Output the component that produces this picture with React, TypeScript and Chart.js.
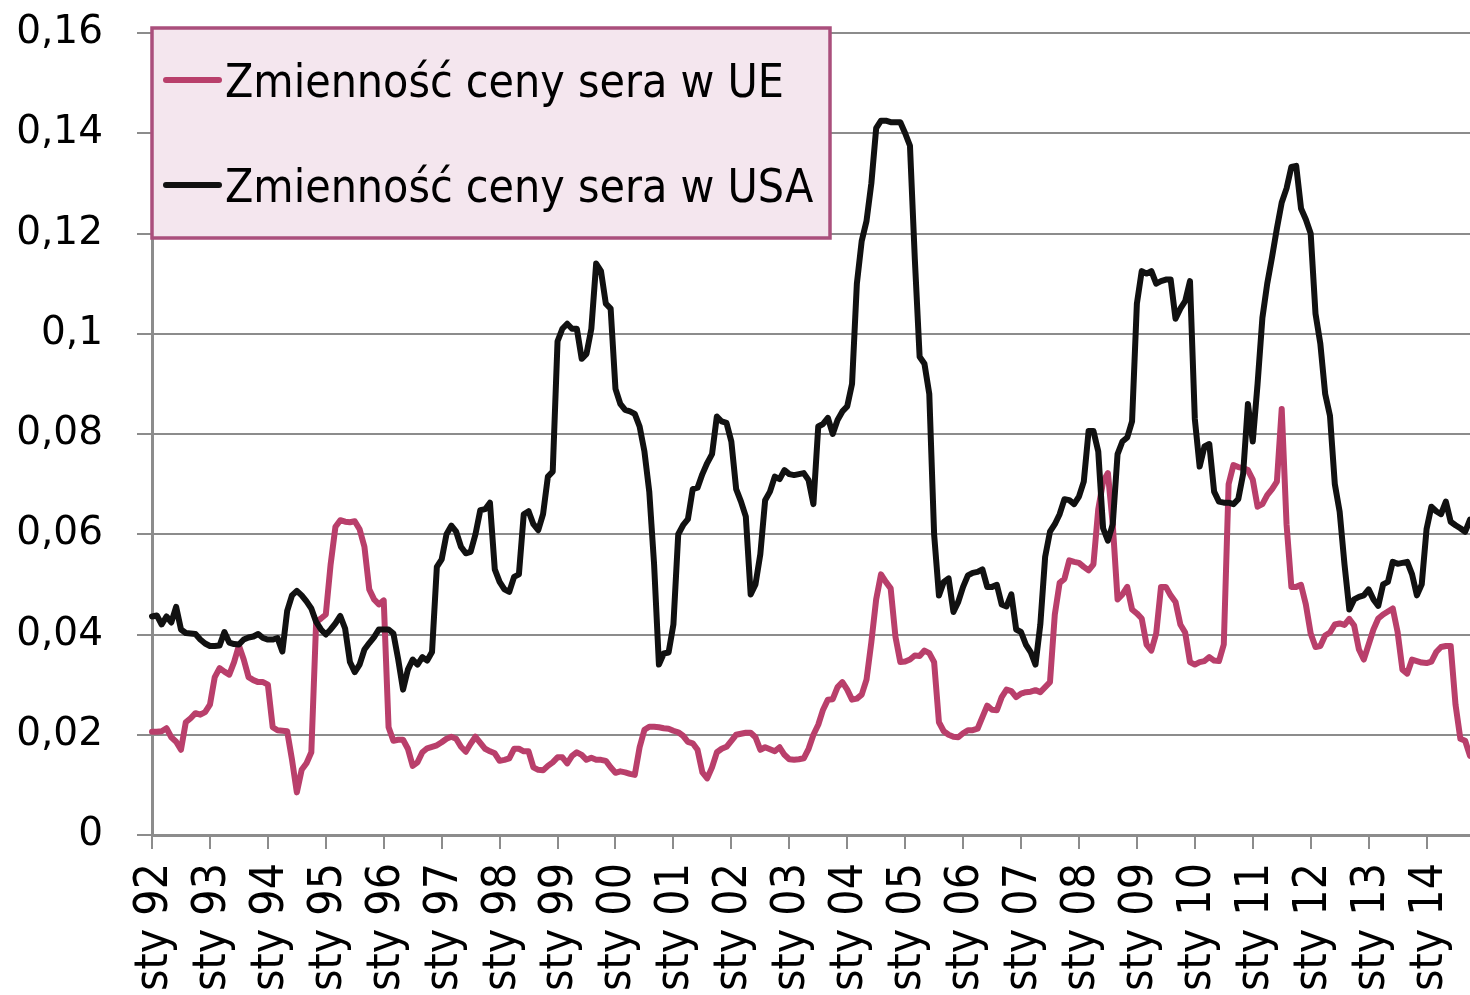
import React, { useEffect, useRef } from 'react';
import { Chart, registerables } from 'chart.js';

Chart.register(...registerables);

const MONTHS = ['sty', 'lut', 'mar', 'kwi', 'maj', 'cze', 'lip', 'sie', 'wrz', 'paź', 'lis', 'gru'];
const YEARS = ['92', '93', '94', '95', '96', '97', '98', '99', '00', '01', '02', '03', '04', '05', '06', '07', '08', '09', '10', '11', '12', '13', '14'];

const SERIES_LABELS = ['Zmienność ceny sera w UE', 'Zmienność ceny sera w USA'];
const SERIES_COLORS = ['#B93F6B', '#111111'];

const UE = [
  0.0206, 0.0206, 0.0207, 0.0213, 0.0195, 0.0186, 0.0170, 0.0225, 0.0233, 0.0243, 0.0240, 0.0245,
  0.0260, 0.0315, 0.0333, 0.0326, 0.0320, 0.0345, 0.0378, 0.0350, 0.0315, 0.0309, 0.0305, 0.0305,
  0.0300, 0.0215, 0.0209, 0.0208, 0.0207, 0.0150, 0.0085, 0.0130, 0.0143, 0.0165, 0.0425, 0.0432,
  0.0440, 0.0540, 0.0615, 0.0628, 0.0625, 0.0624, 0.0626, 0.0610, 0.0575, 0.0490, 0.0470, 0.0460,
  0.0468, 0.0215, 0.0188, 0.0190, 0.0190, 0.0172, 0.0138, 0.0145, 0.0165, 0.0173, 0.0176, 0.0179,
  0.0185, 0.0192, 0.0196, 0.0192, 0.0176, 0.0166, 0.0182, 0.0196, 0.0184, 0.0172, 0.0167, 0.0163,
  0.0148, 0.0150, 0.0153, 0.0172, 0.0172, 0.0167, 0.0167, 0.0135, 0.0130, 0.0129, 0.0138, 0.0145,
  0.0155, 0.0155, 0.0143, 0.0158, 0.0165, 0.0160, 0.0150, 0.0154, 0.0150, 0.0150, 0.0148, 0.0135,
  0.0124, 0.0127, 0.0125, 0.0122, 0.0120, 0.0175, 0.0210, 0.0216, 0.0216, 0.0215, 0.0213, 0.0212,
  0.0208, 0.0205, 0.0198, 0.0186, 0.0183, 0.0170, 0.0125, 0.0113, 0.0135, 0.0165, 0.0172, 0.0176,
  0.0188, 0.0200, 0.0202, 0.0204, 0.0204, 0.0195, 0.0170, 0.0175, 0.0171, 0.0167, 0.0175, 0.0160,
  0.0151, 0.0150, 0.0151, 0.0153, 0.0172, 0.0200, 0.0220, 0.0250, 0.0270, 0.0271, 0.0295, 0.0305,
  0.0290, 0.0270, 0.0272, 0.0280, 0.0310, 0.0385, 0.0470, 0.0520, 0.0505, 0.0492, 0.0395, 0.0345,
  0.0346, 0.0350, 0.0358, 0.0357, 0.0368, 0.0363, 0.0345, 0.0225, 0.0207, 0.0200, 0.0196, 0.0195,
  0.0203, 0.0209, 0.0209, 0.0212, 0.0235, 0.0258, 0.0250, 0.0249, 0.0275, 0.0290, 0.0287, 0.0275,
  0.0282, 0.0285, 0.0286, 0.0289, 0.0285, 0.0295, 0.0305, 0.0440, 0.0503, 0.0511, 0.0548, 0.0545,
  0.0543, 0.0535, 0.0528, 0.0540, 0.0650, 0.0705, 0.0722, 0.0620, 0.0470, 0.0480, 0.0495, 0.0450,
  0.0442, 0.0432, 0.0380, 0.0368, 0.0402, 0.0495, 0.0495, 0.0478, 0.0465, 0.0420, 0.0404, 0.0345,
  0.0340, 0.0345, 0.0347, 0.0355, 0.0348, 0.0347, 0.0380, 0.0700, 0.0738, 0.0734, 0.0732, 0.0728,
  0.0709, 0.0655, 0.0660, 0.0678, 0.0690, 0.0705, 0.0850, 0.0620, 0.0495, 0.0495, 0.0499, 0.0460,
  0.0402, 0.0375, 0.0377, 0.0398, 0.0404, 0.0420, 0.0422, 0.0419, 0.0431, 0.0418, 0.0370, 0.0350,
  0.0380, 0.0410, 0.0432, 0.0440, 0.0446, 0.0452, 0.0405, 0.0330, 0.0322, 0.0350, 0.0347, 0.0344,
  0.0343, 0.0346, 0.0365, 0.0375, 0.0377, 0.0377, 0.0260, 0.0192, 0.0188, 0.0158,
];

const USA = [
  0.0436, 0.0438, 0.0420, 0.0436, 0.0424, 0.0455, 0.0410, 0.0403, 0.0402, 0.0401, 0.0390, 0.0382,
  0.0377, 0.0377, 0.0378, 0.0405, 0.0384, 0.0381, 0.0380, 0.0390, 0.0394, 0.0396, 0.0401, 0.0393,
  0.0390, 0.0390, 0.0393, 0.0366, 0.0447, 0.0478, 0.0487, 0.0478, 0.0466, 0.0452, 0.0425, 0.0410,
  0.0400, 0.0410, 0.0422, 0.0437, 0.0412, 0.0345, 0.0325, 0.0340, 0.0370, 0.0383, 0.0395, 0.0410,
  0.0410, 0.0410, 0.0402, 0.0350, 0.0290, 0.0330, 0.0350, 0.0340, 0.0355, 0.0348, 0.0365, 0.0535,
  0.0550, 0.0600, 0.0617, 0.0605, 0.0575, 0.0562, 0.0565, 0.0600, 0.0648, 0.0650, 0.0663, 0.0530,
  0.0505, 0.0490, 0.0485, 0.0515, 0.0520, 0.0640, 0.0646, 0.0620, 0.0608, 0.0640, 0.0715, 0.0725,
  0.0985, 0.1010, 0.1020, 0.1010, 0.1010, 0.0950, 0.0960, 0.1010, 0.1140, 0.1125, 0.1060, 0.1050,
  0.0890, 0.0860, 0.0848, 0.0845, 0.0840, 0.0815, 0.0765, 0.0685, 0.0540, 0.0340, 0.0362, 0.0364,
  0.0420, 0.0600, 0.0618, 0.0630, 0.0690, 0.0693, 0.0720, 0.0742, 0.0760, 0.0835, 0.0825, 0.0822,
  0.0785, 0.0690, 0.0665, 0.0635, 0.0480, 0.0500, 0.0560, 0.0668, 0.0685, 0.0715, 0.0710, 0.0728,
  0.0720, 0.0718, 0.0720, 0.0722, 0.0708, 0.0660, 0.0815, 0.0820, 0.0832, 0.0800, 0.0828, 0.0845,
  0.0855, 0.0900, 0.1100, 0.1185, 0.1225, 0.1300, 0.1410, 0.1425, 0.1425, 0.1422, 0.1422, 0.1422,
  0.1400, 0.1375, 0.1150, 0.0954, 0.0940, 0.0880, 0.0600, 0.0478, 0.0505, 0.0512, 0.0445, 0.0465,
  0.0495, 0.0518, 0.0523, 0.0525, 0.0530, 0.0495, 0.0495, 0.0499, 0.0460, 0.0456, 0.0480, 0.0410,
  0.0405, 0.0380, 0.0365, 0.0340, 0.0420, 0.0555, 0.0605, 0.0620, 0.0640, 0.0670, 0.0668, 0.0660,
  0.0675, 0.0705, 0.0806, 0.0806, 0.0765, 0.0612, 0.0587, 0.0620, 0.0760, 0.0785, 0.0793, 0.0825,
  0.1060, 0.1125, 0.1120, 0.1125, 0.1100, 0.1105, 0.1108, 0.1108, 0.1030, 0.1050, 0.1065, 0.1105,
  0.0830, 0.0735, 0.0775, 0.0780, 0.0685, 0.0665, 0.0663, 0.0663, 0.0660, 0.0670, 0.0720, 0.0860,
  0.0785, 0.0900, 0.1032, 0.1100, 0.1153, 0.1210, 0.1262, 0.1290, 0.1333, 0.1335, 0.1250, 0.1228,
  0.1200, 0.1040, 0.0980, 0.0880, 0.0836, 0.0700, 0.0645, 0.0540, 0.0450, 0.0470, 0.0475, 0.0478,
  0.0490, 0.0470, 0.0457, 0.0500, 0.0505, 0.0545, 0.0541, 0.0543, 0.0545, 0.0520, 0.0478, 0.0500,
  0.0610, 0.0655, 0.0646, 0.0640, 0.0665, 0.0625, 0.0618, 0.0612, 0.0605, 0.0629,
];

const CATEGORIES = YEARS.flatMap((y) => MONTHS.map((m) => `${m} ${y}`)).slice(0, UE.length);

const Y_MIN = 0;
const Y_MAX = 0.16;
const Y_STEP = 0.02;

const GRID = '#8C8C8C';
const FONT_WIDE = '"DejaVu Sans", "Verdana", sans-serif';
const FONT_COND = '"DejaVu Sans Condensed", "DejaVu Sans", sans-serif';

const fmt = (v: number) => String(parseFloat(Number(v).toFixed(2))).replace('.', ',');

const boxLegend = {
  id: 'boxLegend',
  afterDraw(chart: any) {
    const { ctx, chartArea } = chart;
    const x = chartArea.left;
    const y = chartArea.top - 5;
    const w = 678;
    const h = 210;
    ctx.save();
    ctx.fillStyle = '#F4E6EE';
    ctx.fillRect(x, y, w, h);
    ctx.lineWidth = 3.5;
    ctx.strokeStyle = '#AA4F7C';
    ctx.strokeRect(x, y, w, h);
    ctx.font = `46px ${FONT_COND}`;
    ctx.textBaseline = 'alphabetic';
    ctx.textAlign = 'left';
    chart.data.datasets.forEach((ds: any, i: number) => {
      const cy = y + 52 + i * 105;
      ctx.strokeStyle = ds.borderColor;
      ctx.lineWidth = 6;
      ctx.lineCap = 'round';
      ctx.beginPath();
      ctx.moveTo(x + 14, cy);
      ctx.lineTo(x + 67, cy);
      ctx.stroke();
      ctx.fillStyle = '#000';
      ctx.fillText(ds.label, x + 73, cy + 17);
    });
    ctx.restore();
  },
};

export default function App() {
  const ref = useRef<HTMLCanvasElement>(null);

  useEffect(() => {
    document.body.style.margin = '0';
    const chart = new Chart(ref.current as HTMLCanvasElement, {
      type: 'line',
      data: {
        labels: CATEGORIES,
        datasets: [
          {
            label: SERIES_LABELS[0],
            data: UE,
            borderColor: SERIES_COLORS[0],
            backgroundColor: SERIES_COLORS[0],
            borderWidth: 6,
            pointRadius: 0,
            tension: 0,
            borderJoinStyle: 'round',
            borderCapStyle: 'round',
            order: 1,
          },
          {
            label: SERIES_LABELS[1],
            data: USA,
            borderColor: SERIES_COLORS[1],
            backgroundColor: SERIES_COLORS[1],
            borderWidth: 6,
            pointRadius: 0,
            tension: 0,
            borderJoinStyle: 'round',
            borderCapStyle: 'round',
            order: 0,
          },
        ],
      },
      options: {
        responsive: false,
        animation: false,
        devicePixelRatio: 1,
        layout: { padding: { top: 33, right: 0, bottom: 0, left: 0 } },
        plugins: {
          legend: { display: false },
          tooltip: { enabled: false },
          title: { display: false },
        },
        scales: {
          x: {
            type: 'category',
            offset: false,
            ticks: {
              autoSkip: false,
              minRotation: 90,
              maxRotation: 90,
              padding: 14,
              labelOffset: 3,
              color: '#000',
              font: { size: 46, family: FONT_COND },
            },
            grid: {
              drawOnChartArea: false,
              drawTicks: true,
              tickLength: 14,
              color: GRID,
              lineWidth: 2,
              offset: false,
            },
            border: { color: GRID, width: 3 },
            afterBuildTicks: (s: any) => {
              s.ticks = s.ticks.filter((t: any) => t.value % MONTHS.length === 0);
            },
            afterFit: (s: any) => {
              s.height = 160;
              s.paddingLeft = 0;
              s.paddingRight = 0;
            },
          },
          y: {
            min: Y_MIN,
            max: Y_MAX,
            ticks: {
              stepSize: Y_STEP,
              padding: 34,
              color: '#000',
              font: { size: 39, family: FONT_WIDE },
              callback: (v: any) => fmt(v),
            },
            grid: {
              color: GRID,
              lineWidth: 2,
              drawTicks: true,
              tickLength: 15,
            },
            border: { color: GRID, width: 3 },
            afterFit: (s: any) => {
              s.width = 152;
              s.paddingTop = 0;
              s.paddingBottom = 0;
            },
          },
        },
      } as any,
      plugins: [boxLegend],
    });
    return () => chart.destroy();
  }, []);

  return (
    <div style={{ width: 1470, height: 995, background: '#fff', overflow: 'hidden' }}>
      <canvas ref={ref} width={1470} height={995} style={{ display: 'block', width: 1470, height: 995 }} />
    </div>
  );
}
